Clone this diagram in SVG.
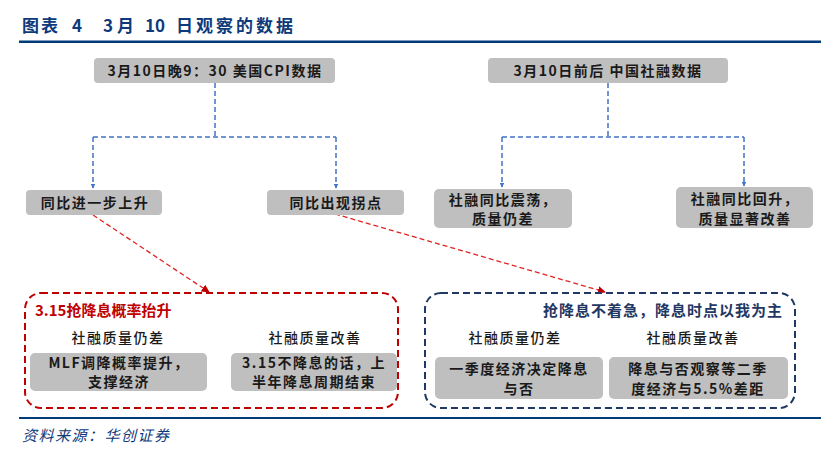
<svg xmlns="http://www.w3.org/2000/svg" width="838" height="466" viewBox="0 0 838 466">
<style>
.t{font-family:"Noto Sans CJK SC","Liberation Sans",sans-serif;}
.node rect{fill:#BFBFBF;}
.nt{font-size:14px;font-weight:700;fill:#1a1a1a;text-anchor:middle;letter-spacing:1.5px;}
.sub{font-size:14px;font-weight:500;fill:#1a1a1a;text-anchor:middle;letter-spacing:1.5px;}
.blue{fill:none;stroke:#4472C4;stroke-width:1.5;stroke-dasharray:5 3;}
.red{fill:none;stroke:#E02424;stroke-width:1.3;stroke-dasharray:5 3;}
.hd{font-size:17px;font-weight:700;fill:#0D3A7A;}
</style>
<defs>
<marker id="ab" viewBox="0 0 10 10" refX="9" refY="5" markerWidth="5" markerHeight="5" orient="auto" markerUnits="userSpaceOnUse"><path d="M0,0 L10,5 L0,10 z" fill="#4472C4"/></marker>
<marker id="ar" viewBox="0 0 10 10" refX="9" refY="5" markerWidth="8" markerHeight="8" orient="auto" markerUnits="userSpaceOnUse"><path d="M0,0 L10,5 L0,10 z" fill="#C00000"/></marker>
</defs>
<rect width="838" height="466" fill="#fff"/>
<g id="title">
<text class="t hd" y="32"><tspan x="22" letter-spacing="2">图表</tspan><tspan x="72">4</tspan><tspan x="103">3</tspan><tspan x="117">月</tspan><tspan x="145">10</tspan><tspan x="176" letter-spacing="3">日观察的数据</tspan></text>
<rect x="19" y="40.5" width="802" height="2.5" fill="#003B7A"/>
</g>
<g id="connectors">
<path class="blue" d="M215,83 V137 M93,137 H336 M93,137 V188" marker-end="url(#ab)"/>
<path class="blue" d="M336,137 V188" marker-end="url(#ab)"/>
<path class="blue" d="M608,83 V137 M502,137 H744 M502,137 V187" marker-end="url(#ab)"/>
<path class="blue" d="M744,137 V186" marker-end="url(#ab)"/>
<path class="red" d="M93,215 L209,292" marker-end="url(#ar)"/>
<path class="red" d="M335,214 L605,292" marker-end="url(#ar)"/>
</g>
<g id="n-cpi" class="node"><rect x="94" y="58" width="241" height="25" rx="4"/><text class="t nt" x="215" y="76" letter-spacing="0.5">3月10日晚9：30 美国CPI数据</text></g>
<g id="n-sr" class="node"><rect x="488" y="58" width="240" height="25" rx="4"/><text class="t nt" x="608" y="76" letter-spacing="0.5">3月10日前后 中国社融数据</text></g>
<g id="n-up" class="node"><rect x="26" y="190" width="136" height="25" rx="4"/><text class="t nt" x="95" y="208">同比进一步上升</text></g>
<g id="n-turn" class="node"><rect x="267" y="190" width="137" height="25" rx="4"/><text class="t nt" x="336" y="208">同比出现拐点</text></g>
<g id="n-osc" class="node"><rect x="434" y="189" width="138" height="39" rx="5"/><text class="t nt" x="503" y="205">社融同比震荡，</text><text class="t nt" x="503" y="224">质量仍差</text></g>
<g id="n-rise" class="node"><rect x="676" y="187" width="137" height="41" rx="5"/><text class="t nt" x="745" y="204">社融同比回升，</text><text class="t nt" x="745" y="224">质量显著改善</text></g>
<g id="box-red">
<rect x="25" y="293" width="373" height="115" rx="16" fill="none" stroke="#C00000" stroke-width="2" stroke-dasharray="7 4"/>
<text class="t" x="35" y="316" font-size="15" font-weight="700" fill="#C00000">3.15抢降息概率抬升</text>
<text class="t sub" x="118" y="343">社融质量仍差</text>
<text class="t sub" x="315" y="343">社融质量改善</text>
<g class="node"><rect x="30" y="353" width="177" height="38" rx="5"/><text class="t nt" x="119" y="368">MLF调降概率提升，</text><text class="t nt" x="119" y="387">支撑经济</text></g>
<g class="node"><rect x="231" y="353" width="166" height="38" rx="5"/><text class="t nt" x="314" y="368">3.15不降息的话，上</text><text class="t nt" x="314" y="387">半年降息周期结束</text></g>
</g>
<g id="box-blue">
<rect x="425" y="293" width="370" height="115" rx="16" fill="none" stroke="#1F3864" stroke-width="2" stroke-dasharray="7 4"/>
<text class="t" x="783" y="316" font-size="15" font-weight="700" fill="#1F3864" text-anchor="end" letter-spacing="1">抢降息不着急，降息时点以我为主</text>
<text class="t sub" x="515" y="343">社融质量仍差</text>
<text class="t sub" x="693" y="343">社融质量改善</text>
<g class="node"><rect x="435" y="357" width="168" height="42" rx="5"/><text class="t nt" x="519" y="374">一季度经济决定降息</text><text class="t nt" x="519" y="394">与否</text></g>
<g class="node"><rect x="609" y="357" width="179" height="42" rx="5"/><text class="t nt" x="698" y="374">降息与否观察等二季</text><text class="t nt" x="698" y="394">度经济与5.5%差距</text></g>
</g>
<g id="footer">
<rect x="19" y="417" width="802" height="2" fill="#003B7A"/>
<text class="t" x="22" y="441" font-size="15" font-style="italic" fill="#0D3A7A" letter-spacing="1.5">资料来源：华创证券</text>
</g>
</svg>
